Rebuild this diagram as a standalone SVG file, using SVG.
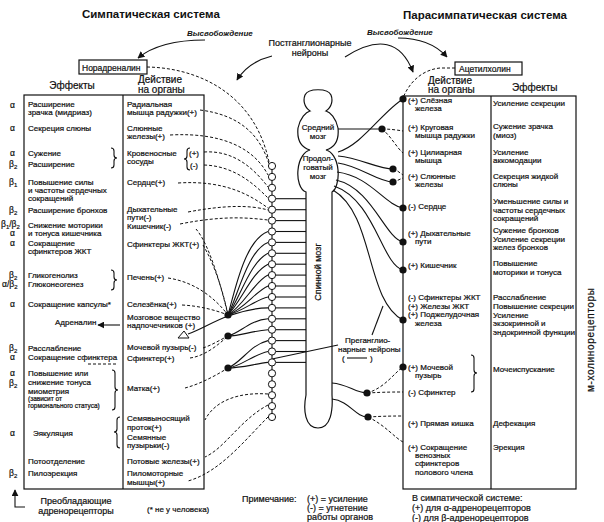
<svg xmlns="http://www.w3.org/2000/svg" width="604" height="522" viewBox="0 0 604 522">
<style>
text{font-family:"Liberation Sans",Arial,sans-serif;fill:#111}
.t,.g,.sm,.h,.n{stroke:#111;stroke-width:0.22}
.t{font-size:8px}
.g{font-size:8.5px}
.sm{font-size:6.5px}
.sb{font-size:6px}
.h{font-size:10px}
.n{font-size:9px}
.ti{font-size:11.5px;font-weight:bold}
.it{font-size:8px;font-style:italic;font-weight:bold}
.ln{fill:none;stroke:#111;stroke-width:1.1}
.bx{fill:none;stroke:#111;stroke-width:1.2}
.ds{fill:none;stroke:#111;stroke-width:1;stroke-dasharray:3 2}
.dot{fill:#111}
.gc{fill:#fff;stroke:#111;stroke-width:1}
.m{text-anchor:middle}
</style>
<defs>
<marker id="ah" viewBox="0 0 10 10" refX="9" refY="5" markerWidth="7" markerHeight="7" markerUnits="userSpaceOnUse" orient="auto">
<path d="M0,0 L10,5 L0,10 Z" fill="#111"/>
</marker>
</defs>
<rect width="604" height="522" fill="#fff"/>

<g id="titles">
<text class="ti" x="82" y="17.5">Симпатическая система</text>
<text class="ti" x="403" y="19">Парасимпатическая система</text>
<text class="it" x="187" y="36">Высвобождение</text>
<text class="it" x="367" y="35">Высвобождение</text>
<text class="n m" x="310" y="46">Постганглионарные</text>
<text class="n m" x="310" y="56">нейроны</text>
</g>

<g id="noradrenalin">
<rect class="bx" x="79" y="60" width="68" height="14"/>
<text class="g" x="82" y="70.5">Норадреналин</text>
</g>
<g id="acetylcholine">
<rect class="bx" x="455" y="62" width="67" height="13"/>
<text class="g" x="459" y="71.5">Ацетилхолин</text>
</g>

<g id="headers">
<text class="h m" x="72" y="88.5">Эффекты</text>
<text class="h" x="138" y="82.5">Действие</text>
<text class="h" x="138" y="92.5">на органы</text>
<text class="h" x="428" y="83.5">Действие</text>
<text class="h" x="428" y="93">на органы</text>
<text class="h" x="512" y="90.5">Эффекты</text>
</g>

<g id="sym-table">
<rect class="bx" x="24" y="95" width="180" height="394"/>
<line class="bx" x1="123" y1="95" x2="123" y2="489"/>
<g id="receptors">
<text class="g" x="10" y="108">α</text>
<text class="g" x="10" y="131">α</text>
<text class="g" x="10" y="156">α</text>
<text class="g" x="9" y="167">β<tspan class="sb" dy="2">2</tspan></text>
<text class="g" x="9" y="185">β<tspan class="sb" dy="2">1</tspan></text>
<text class="g" x="9" y="213">β<tspan class="sb" dy="2">2</tspan></text>
<text class="g" x="1" y="226.5">β<tspan class="sb" dy="2">1</tspan><tspan dy="-2">/β</tspan><tspan class="sb" dy="2">2</tspan></text>
<text class="g" x="10" y="236">α</text>
<text class="g" x="10" y="245.5">α</text>
<text class="g" x="9" y="278">β<tspan class="sb" dy="2">2</tspan></text>
<text class="g" x="2" y="286.5">α/β<tspan class="sb" dy="2">2</tspan></text>
<text class="g" x="10" y="307">α</text>
<text class="g" x="9" y="350.5">β<tspan class="sb" dy="2">2</tspan></text>
<text class="g" x="10" y="360">α</text>
<text class="g" x="10" y="376">α</text>
<text class="g" x="9" y="385.5">β<tspan class="sb" dy="2">2</tspan></text>
<text class="g" x="10" y="436">α</text>
<text class="g" x="9" y="476">β<tspan class="sb" dy="2">2</tspan></text>
</g>
<g id="sym-effects">
<text class="t" x="28" y="107">Расширение</text>
<text class="t" x="28" y="115">зрачка (мидриаз)</text>
<text class="t" x="28" y="131">Секреция слюны</text>
<text class="t" x="28" y="156">Сужение</text>
<text class="t" x="28" y="167">Расширение</text>
<text class="t" x="28" y="185">Повышение силы</text>
<text class="t" x="28" y="193">и частоты сердечных</text>
<text class="t" x="28" y="201">сокращений</text>
<text class="t" x="28" y="213">Расширение бронхов</text>
<text class="t" x="28" y="227.5">Снижение моторики</text>
<text class="t" x="28" y="235.5">и тонуса кишечника</text>
<text class="t" x="28" y="245.5">Сокращение</text>
<text class="t" x="28" y="253.5">сфинктеров ЖКТ</text>
<text class="t" x="28" y="278">Гликогенолиз</text>
<text class="t" x="28" y="286.5">Глюконеогенез</text>
<text class="t" x="28" y="307">Сокращение капсулы*</text>
<text class="t" x="55" y="325">Адреналин</text>
<text class="t" x="28" y="350.5">Расслабление</text>
<text class="t" x="28" y="360">Сокращение сфинктера</text>
<text class="t" x="28" y="376">Повышение или</text>
<text class="t" x="28" y="385">снижение тонуса</text>
<text class="t" x="28" y="394">миометрия</text>
<text class="sm" x="28" y="401">(зависит от</text>
<text class="sm" x="28" y="408">гормонального статуса)</text>
<text class="t" x="33" y="436">Эякуляция</text>
<text class="t" x="28" y="464">Потоотделение</text>
<text class="t" x="28" y="476">Пилоэрекция</text>
</g>
<g id="sym-organs">
<text class="t" x="127" y="107">Радиальная</text>
<text class="t" x="127" y="115">мышца радужки(+)</text>
<text class="t" x="127" y="131">Слюнные</text>
<text class="t" x="127" y="138.5">железы(+)</text>
<text class="t" x="127" y="156">Кровеносные</text>
<text class="t" x="127" y="164">сосуды</text>
<text class="t" x="189" y="156">(+)</text>
<text class="t" x="190" y="168">(-)</text>
<text class="t" x="127" y="185">Сердце(+)</text>
<text class="t" x="127" y="212">Дыхательные</text>
<text class="t" x="127" y="219.5">пути(-)</text>
<text class="t" x="127" y="228.5">Кишечник(-)</text>
<text class="t" x="127" y="246.5">Сфинктеры ЖКТ(+)</text>
<text class="t" x="127" y="280">Печень(+)</text>
<text class="t" x="127" y="307">Селезёнка(+)</text>
<text class="t" x="127" y="320">Мозговое вещество</text>
<text class="t" x="127" y="328">надпочечников (+)</text>
<text class="t" x="127" y="350">Мочевой пузырь(-)</text>
<text class="t" x="127" y="361">Сфинктер(+)</text>
<text class="t" x="127" y="391">Матка(+)</text>
<text class="t" x="127" y="421">Семявыносящий</text>
<text class="t" x="127" y="430">проток(+)</text>
<text class="t" x="127" y="440">Семянные</text>
<text class="t" x="127" y="448">пузырьки(-)</text>
<text class="t" x="127" y="464">Потовые железы(+)</text>
<text class="t" x="127" y="476">Пиломоторные</text>
<text class="t" x="127" y="485">мышцы(+)</text>
</g>
<g id="sym-braces">
<path class="ln" d="M111,148 Q114,148 114,151 L114,155 Q114,158 117,158 Q114,158 114,161 L114,165 Q114,168 111,168"/>
<path class="ln" d="M190,148 Q187,148 187,151 L187,156 Q187,159 184,159 Q187,159 187,162 L187,167 Q187,170 190,170"/>
<path class="ln" d="M111,270 Q114,270 114,273 L114,277 Q114,280 117,280 Q114,280 114,283 L114,287 Q114,290 111,290"/>
<path class="ln" d="M112,370 Q115,370 115,373 L115,387 Q115,390 118,390 Q115,390 115,393 L115,407 Q115,410 112,410"/>
<path class="ln" d="M120,417 Q117,417 117,420 L117,429 Q117,432 114,432 Q117,432 117,435 L117,445 Q117,448 120,448"/>
</g>
</g>

<g id="para-table">
<rect class="bx" x="403" y="96" width="173" height="393"/>
<line class="bx" x1="491" y1="96" x2="491" y2="489"/>
<g id="para-organs">
<text class="t" x="408" y="103">(+) Слёзная</text>
<text class="t" x="415" y="110.5">железа</text>
<text class="t" x="408" y="130">(+) Круговая</text>
<text class="t" x="415" y="138">мышца радужки</text>
<text class="t" x="408" y="155">(+) Цилиарная</text>
<text class="t" x="415" y="163">мышца</text>
<text class="t" x="408" y="179">(+) Слюнные</text>
<text class="t" x="415" y="187">железы</text>
<text class="t" x="408" y="209">(-) Сердце</text>
<text class="t" x="408" y="236">(+) Дыхательные</text>
<text class="t" x="415" y="244">пути</text>
<text class="t" x="408" y="268">(+) Кишечник</text>
<text class="t" x="408" y="300">(-) Сфинктеры ЖКТ</text>
<text class="t" x="408" y="308.5">(+) Железы ЖКТ</text>
<text class="t" x="408" y="317">(+) Поджелудочная</text>
<text class="t" x="415" y="326">железа</text>
<text class="t" x="408" y="370">(+) Мочевой</text>
<text class="t" x="415" y="378">пузырь</text>
<text class="t" x="408" y="395">(-) Сфинктер</text>
<text class="t" x="408" y="426">(+) Прямая кишка</text>
<text class="t" x="408" y="450">(+) Сокращение</text>
<text class="t" x="415" y="458">венозных</text>
<text class="t" x="415" y="466">сфинктеров</text>
<text class="t" x="415" y="475">полового члена</text>
</g>
<g id="para-effects">
<text class="t" x="493" y="106">Усиление секреции</text>
<text class="t" x="493" y="129">Сужение зрачка</text>
<text class="t" x="493" y="138">(миоз)</text>
<text class="t" x="493" y="155">Усиление</text>
<text class="t" x="493" y="163">аккомодации</text>
<text class="t" x="493" y="179">Секреция жидкой</text>
<text class="t" x="493" y="187">слюны</text>
<text class="t" x="493" y="204">Уменьшение силы и</text>
<text class="t" x="493" y="212.5">частоты сердечных</text>
<text class="t" x="493" y="221">сокращений</text>
<text class="t" x="493" y="233">Сужение бронхов</text>
<text class="t" x="493" y="241.5">Усиление секреции</text>
<text class="t" x="493" y="250">желез бронхов</text>
<text class="t" x="493" y="266">Повышение</text>
<text class="t" x="493" y="275">моторики и тонуса</text>
<text class="t" x="493" y="300">Расслабление</text>
<text class="t" x="493" y="309">Повышение секреции</text>
<text class="t" x="493" y="317.5">Усиление</text>
<text class="t" x="493" y="326">экзокринной и</text>
<text class="t" x="493" y="335">эндокринной функции</text>
<text class="t" x="493" y="372">Мочеиспускание</text>
<text class="t" x="493" y="426">Дефекация</text>
<text class="t" x="493" y="450">Эрекция</text>
</g>
<path class="ln" d="M471,355 Q474,355 474,358 L474,370 Q474,373 477,373 Q474,373 474,376 L474,389 Q474,392 471,392"/>
</g>

<g id="cns">
<path class="bx" fill="#fff" d="M306,395 L306,192 C300,190 297,180 298,170 C299,158 305,151 310,150 C300,147 297,138 298,128 C300,118 306,112 310,111 C304,107 303,100 305,95 C308,88 328,88 331,95 C333,100 332,107 326,111 C330,112 336,118 338,128 C339,138 336,147 326,150 C331,151 337,158 338,170 C339,180 336,190 332,192 L332,395 C333,410 331,428 318,428 C305,428 303,410 306,395 Z"/>
<text class="t m" x="318" y="130">Средний</text>
<text class="t m" x="318" y="139">мозг</text>
<text class="t m" x="318" y="161">Продол-</text>
<text class="t m" x="318" y="170">говатый</text>
<text class="t m" x="318" y="179">мозг</text>
<text class="n m" transform="translate(321,272) rotate(-90)">Спинной мозг</text>
</g>

<g id="connectors">
<path class="ln" d="M205,40 Q160,40 138,58" marker-end="url(#ah)"/>
<path class="ln" d="M272,56 Q248,62 237,80" marker-end="url(#ah)"/>
<path class="ln" d="M345,57 Q395,25 413,72" marker-end="url(#ah)"/>
<path class="ln" d="M398,38 Q430,38 447,57" marker-end="url(#ah)"/>
<line class="ln" x1="120" y1="325" x2="98" y2="325" marker-end="url(#ah)"/>

<line class="ln" x1="272" y1="166" x2="272" y2="417"/>
<g class="ln">
<line x1="276" y1="198.7" x2="306" y2="198.7"/>
<line x1="276" y1="209.7" x2="306" y2="209.7"/>
<line x1="276" y1="220.6" x2="306" y2="220.6"/>
<line x1="276" y1="231.5" x2="306" y2="231.5"/>
<line x1="276" y1="242.4" x2="306" y2="242.4"/>
<line x1="276" y1="253.3" x2="306" y2="253.3"/>
<line x1="276" y1="264.2" x2="306" y2="264.2"/>
<line x1="276" y1="275.1" x2="306" y2="275.1"/>
<line x1="276" y1="286" x2="306" y2="286"/>
<line x1="276" y1="297" x2="306" y2="297"/>
<line x1="276" y1="307.9" x2="306" y2="307.9"/>
<line x1="276" y1="318.8" x2="306" y2="318.8"/>
<line x1="276" y1="329.7" x2="306" y2="329.7"/>
<line x1="276" y1="340.6" x2="306" y2="340.6"/>
<line x1="276" y1="351.5" x2="306" y2="351.5"/>
<line x1="276" y1="362.4" x2="306" y2="362.4"/>
</g>
<g class="ln">
<path d="M268,231.5 C245,240 235,290 228,315"/>
<path d="M268,242.4 C248,250 238,295 228,315"/>
<path d="M268,253.3 C250,262 240,298 228,315"/>
<path d="M268,264.2 C252,272 242,300 228,315"/>
<path d="M268,275.1 C254,282 244,305 228,315"/>
<path d="M268,286 C255,292 245,308 228,315"/>
<path d="M268,297 C255,300 245,310 228,315"/>
<path d="M268,307.9 C250,308 238,313 228,316 C212,322 200,330 188,334"/>
<path d="M268,318.8 C250,320 240,333 228,336"/>
<path d="M268,329.7 C252,331 240,336 228,336"/>
<path d="M268,340.6 C250,345 242,362 228,368"/>
<path d="M268,351.5 C252,355 242,366 228,368"/>
<path d="M268,362.4 C255,364 240,368 228,368"/>
</g>
<polygon points="178,338 189,338 184,331" fill="#fff" stroke="#111" stroke-width="1"/>
<g class="ds">
<path d="M147,67 C200,68 255,95 269,162"/>
<path d="M200,110 C240,115 260,135 269,164"/>
<path d="M170,135 C225,132 255,150 268,175"/>
<path d="M204,152 C235,150 255,170 268,187"/>
<path d="M204,165 C235,166 255,185 268,198"/>
<path d="M178,183 C225,180 250,195 268,208"/>
<path d="M188,212 C225,205 250,205 268,210"/>
<path d="M180,224 C225,215 250,218 268,220"/>
<path d="M196,229 C210,245 222,290 228,315"/>
<path d="M203,245 C215,265 224,295 228,315"/>
<path d="M168,278 C195,282 215,298 228,315"/>
<path d="M182,305 C200,306 215,310 228,315"/>
<path d="M203,348 C212,345 220,340 228,336"/>
<path d="M190,358 C205,356 218,345 228,336"/>
<path d="M185,388 C200,384 215,376 228,368"/>
<path d="M268,394 C240,392 215,400 205,420"/>
<path d="M268,405 C240,420 225,448 205,457"/>
<path d="M268,417 C245,440 220,472 188,481"/>
<path d="M88,364 L117,364"/>
</g>

<g class="ln">
<path d="M338,152 C362,145 382,112 403,99"/>
<path d="M338,129 L382,129"/>
<path d="M338,156 C360,158 378,169 393,169"/>
<path d="M338,163 C360,166 378,182 393,182"/>
<path d="M337,172 C370,176 385,205 403,208"/>
<path d="M336,180 C372,188 385,238 403,242"/>
<path d="M334,186 C375,200 382,265 403,270"/>
<path d="M333,190 C375,215 365,300 403,320"/>
<path d="M332,383 C348,384 355,393 367,393"/>
<path d="M332,399 C350,401 355,417 368,417"/>
</g>
<g class="ds">
<path d="M455,68 L440,68 C420,70 408,85 403,98"/>
<path d="M382,129 C390,129 397,130 403,131"/>
<path d="M382,129 C390,135 397,148 403,153"/>
<path d="M393,169 C397,170 400,173 403,175"/>
<path d="M393,182 C397,181 400,179 403,178"/>
<path d="M367,393 C385,388 395,372 403,367"/>
<path d="M367,393 C385,392 395,392 403,392"/>
<path d="M368,417 C385,416 395,416 403,416"/>
<path d="M368,417 C385,425 395,438 403,442"/>
</g>
<line class="ln" x1="372" y1="335" x2="383" y2="306"/>
<line class="ln" x1="338" y1="345" x2="272" y2="359"/>
</g>

<g id="chain-ganglia">
<circle class="gc" cx="272" cy="166" r="3.6"/>
<circle class="gc" cx="272" cy="176.9" r="3.6"/>
<circle class="gc" cx="272" cy="187.8" r="3.6"/>
<circle class="gc" cx="272" cy="198.7" r="3.6"/>
<circle class="gc" cx="272" cy="209.7" r="3.6"/>
<circle class="gc" cx="272" cy="220.6" r="3.6"/>
<circle class="gc" cx="272" cy="231.5" r="3.6"/>
<circle class="gc" cx="272" cy="242.4" r="3.6"/>
<circle class="gc" cx="272" cy="253.3" r="3.6"/>
<circle class="gc" cx="272" cy="264.2" r="3.6"/>
<circle class="gc" cx="272" cy="275.1" r="3.6"/>
<circle class="gc" cx="272" cy="286" r="3.6"/>
<circle class="gc" cx="272" cy="297" r="3.6"/>
<circle class="gc" cx="272" cy="307.9" r="3.6"/>
<circle class="gc" cx="272" cy="318.8" r="3.6"/>
<circle class="gc" cx="272" cy="329.7" r="3.6"/>
<circle class="gc" cx="272" cy="340.6" r="3.6"/>
<circle class="gc" cx="272" cy="351.5" r="3.6"/>
<circle class="gc" cx="272" cy="362.4" r="3.6"/>
<circle class="gc" cx="272" cy="373.3" r="3.6"/>
<circle class="gc" cx="272" cy="384.3" r="3.6"/>
<circle class="gc" cx="272" cy="395.2" r="3.6"/>
<circle class="gc" cx="272" cy="406.1" r="3.6"/>
<circle class="gc" cx="272" cy="417" r="3.6"/>
</g>

<g id="ganglia-dots">
<circle class="dot" cx="228" cy="315" r="3.6"/>
<circle class="dot" cx="228" cy="336" r="3.6"/>
<circle class="dot" cx="228" cy="368" r="3.6"/>
<circle class="dot" cx="382" cy="129" r="3.6"/>
<circle class="dot" cx="393" cy="169" r="3.6"/>
<circle class="dot" cx="393" cy="182" r="3.6"/>
<circle class="dot" cx="367" cy="393" r="3.6"/>
<circle class="dot" cx="368" cy="417" r="3.6"/>
<circle class="dot" cx="403" cy="99" r="3.6"/>
<circle class="dot" cx="403" cy="208" r="3.6"/>
<circle class="dot" cx="403" cy="242" r="3.6"/>
<circle class="dot" cx="403" cy="270" r="3.6"/>
<circle class="dot" cx="403" cy="320" r="3.6"/>
<circle class="dot" cx="403" cy="367" r="3.6"/>
</g>

<g id="pregang-label">
<text class="t" x="345" y="343">Преганглио-</text>
<text class="t" x="338" y="352">нарные нейроны</text>
<text class="t" x="342" y="361">(</text>
<line class="ln" x1="347" y1="358" x2="367" y2="358"/>
<text class="t" x="370" y="361">)</text>
</g>

<g id="m-cholino">
<text class="h m" transform="translate(594,340) rotate(-90)" textLength="104" lengthAdjust="spacing">м-холинорецепторы</text>
</g>

<g id="notes">
<path class="ln" d="M25,507 L15,507 L15,490" marker-end="url(#ah)"/>
<text class="n m" x="76" y="504">Преобладающие</text>
<text class="n m" x="76" y="514">адренорецепторы</text>
<text class="t" x="147" y="512">(* не у человека)</text>
<text class="n" x="242" y="502">Примечание:</text>
<text class="n" x="307" y="502">(+) = усиление</text>
<text class="n" x="307" y="511">(-)  = угнетение</text>
<text class="n" x="307" y="520">работы органов</text>
<text class="n" x="412" y="501">В симпатической системе:</text>
<text class="n" x="412" y="511">(+) для α-адренорецепторов</text>
<text class="n" x="412" y="521">(-)  для β-адренорецепторов</text>
</g>
</svg>
